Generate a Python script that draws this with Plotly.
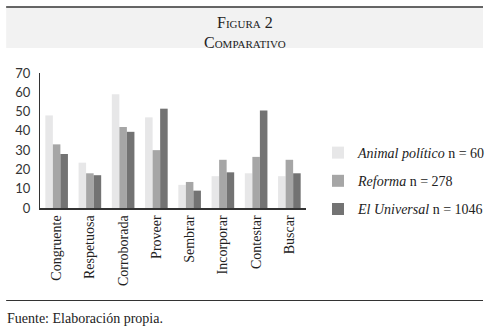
import plotly.graph_objects as go

categories = ["Congruente", "Respetuosa", "Corroborada", "Proveer", "Sembrar", "Incorporar", "Contestar", "Buscar"]
animal_politico = [48, 23.5, 59, 47, 12, 16.5, 18, 16.5]
reforma = [33, 18, 42, 30, 13.5, 25, 26.5, 25]
el_universal = [28, 17, 39.5, 51.5, 9, 18.5, 50.5, 18]
series_names = ["<i>Animal político</i> n = 60", "<i>Reforma</i> n = 278", "<i>El Universal</i> n = 1046"]
colors = ["#e7e7e8", "#a6a6a6", "#737373"]

W, H = 503, 331
L, R, T, B = 40, 315, 73, 208

def px(x):
    return (x - L) / (R - L)

def py(y):
    return (B - y) / (B - T)

fig = go.Figure()
for i, (name, vals) in enumerate(zip(series_names, [animal_politico, reforma, el_universal])):
    fig.add_trace(go.Bar(x=categories, y=vals, name=name, marker=dict(color=colors[i], line=dict(width=0)),
                         legendgroup=str(i)))

serif = "Liberation Serif"
fig.update_layout(
    width=W, height=H,
    margin=dict(l=L, r=W - R, t=T, b=H - B, pad=0),
    paper_bgcolor="white", plot_bgcolor="white",
    barmode="group", bargap=0.32, bargroupgap=0,
    showlegend=True,
    legend=dict(xref="container", yref="container", x=318 / W, y=1 - 137 / H, xanchor="left", yanchor="top",
                font=dict(family=serif, size=14, color="#222"),
                tracegroupgap=7, itemwidth=30, bgcolor="rgba(0,0,0,0)"),
    font=dict(family=serif, color="#222"),
)
fig.update_yaxes(range=[0, 70], dtick=10, showgrid=False, zeroline=False,
                 showline=True, linecolor="#333", linewidth=1, ticks="",
                 tickfont=dict(family="Lato", size=13, color="#333"), ticklabelstandoff=6)
fig.update_xaxes(showline=True, linecolor="#333", linewidth=1.5, ticks="", tickangle=-90,
                 tickfont=dict(family=serif, size=14, color="#222"))

shapes = [
    dict(type="rect", xref="paper", yref="paper", x0=px(5), x1=px(498), y0=py(48), y1=py(7.5),
         fillcolor="#f2f2f2", line=dict(width=0), layer="below"),
    dict(type="line", xref="paper", yref="paper", x0=px(5), x1=px(498), y0=py(7), y1=py(7),
         line=dict(color="#333", width=1.5)),
    dict(type="line", xref="paper", yref="paper", x0=px(5), x1=px(498), y0=py(300.5), y1=py(300.5),
         line=dict(color="#333", width=1.2)),
]
annotations = [
    dict(text="Figura 2", xref="paper", yref="paper", x=px(251.5), y=py(22), showarrow=False,
         xanchor="center", yanchor="middle", font=dict(family=serif, size=16, color="#222", variant="small-caps")),
    dict(text="Comparativo", xref="paper", yref="paper", x=px(251.5), y=py(42), showarrow=False,
         xanchor="center", yanchor="middle", font=dict(family=serif, size=16, color="#222", variant="small-caps")),
    dict(text="Fuente: Elaboración propia.", xref="paper", yref="paper", x=px(4), y=py(318), showarrow=False,
         xanchor="left", yanchor="middle", font=dict(family=serif, size=14, color="#222")),
]
fig.update_layout(shapes=shapes, annotations=annotations)
fig.write_html("out.html", config={"displayModeBar": False},
               post_script="document.body.style.margin='0';document.body.style.overflow='hidden';")
